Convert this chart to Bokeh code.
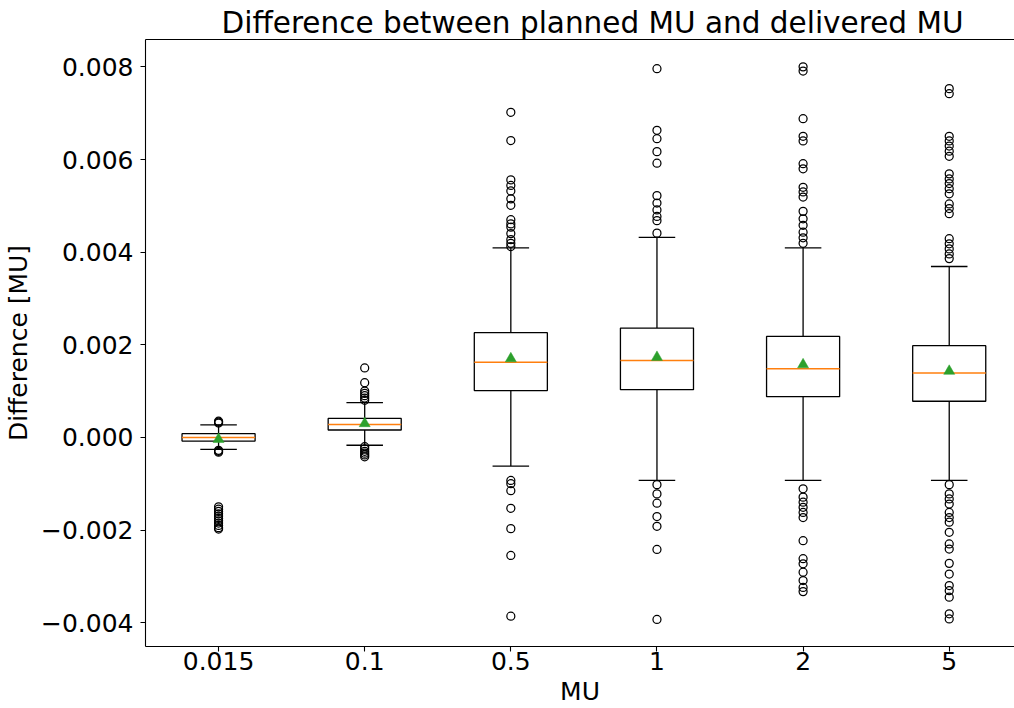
from bokeh.plotting import figure
from bokeh.models import (ColumnDataSource, Range1d, FixedTicker, LinearAxis,
                          CustomJSTickFormatter, Title)
from bokeh.embed import file_html
from bokeh.resources import INLINE

# ---------------- data ----------------
categories = ["0.015", "0.1", "0.5", "1", "2", "5"]
q1 = [-0.00008, 0.00016, 0.00101, 0.00103, 0.00088, 0.00078]
median = [0.00000, 0.00028, 0.00162, 0.00166, 0.00148, 0.00139]
q3 = [0.00008, 0.00041, 0.00226, 0.00236, 0.00218, 0.00198]
whisker_low = [-0.00026, -0.00017, -0.00062, -0.00093, -0.00093, -0.00093]
whisker_high = [0.00027, 0.00075, 0.00409, 0.00432, 0.00409, 0.00369]
mean = [-0.00004, 0.00030, 0.00170, 0.00173, 0.00157, 0.00143]

outliers_0015 = [0.00031, 0.00033, 0.00035, -0.00028, -0.00030, -0.00032,
                 -0.00150, -0.00155, -0.00160, -0.00165, -0.00170, -0.00175,
                 -0.00180, -0.00185, -0.00190, -0.00195, -0.00198]
outliers_01 = [0.00150, 0.00118, 0.00100, 0.00095, 0.00090, 0.00085, 0.00080,
               -0.00020, -0.00025, -0.00030, -0.00034, -0.00038, -0.00042]
outliers_05 = [0.00702, 0.00641, 0.00556, 0.00544, 0.00532, 0.00515, 0.00501,
               0.00470, 0.00461, 0.00454, 0.00440, 0.00427, 0.00419, 0.00412,
               -0.00093, -0.00100, -0.00115, -0.00153, -0.00197, -0.00255, -0.00386]
outliers_1 = [0.00796, 0.00663, 0.00645, 0.00617, 0.00592, 0.00522, 0.00506,
              0.00491, 0.00477, 0.00468, 0.00441,
              -0.00102, -0.00122, -0.00142, -0.00171, -0.00192, -0.00242, -0.00393]
outliers_2 = [0.00800, 0.00791, 0.00688, 0.00650, 0.00640, 0.00591, 0.00580,
              0.00540, 0.00530, 0.00519, 0.00488, 0.00472, 0.00458, 0.00443,
              0.00431, 0.00419,
              -0.00111, -0.00129, -0.00140, -0.00151, -0.00162, -0.00173,
              -0.00223, -0.00262, -0.00273, -0.00291, -0.00309, -0.00324, -0.00333]
outliers_5 = [0.00753, 0.00742, 0.00650, 0.00640, 0.00629, 0.00618, 0.00607,
              0.00569, 0.00558, 0.00548, 0.00537, 0.00526, 0.00504, 0.00494,
              0.00483, 0.00429, 0.00418, 0.00407, 0.00396, 0.00386,
              -0.00102, -0.00122, -0.00133, -0.00144, -0.00162, -0.00173,
              -0.00183, -0.00205, -0.00230, -0.00241, -0.00272, -0.00295,
              -0.00320, -0.00331, -0.00345, -0.00381, -0.00392]
outliers = [outliers_0015, outliers_01, outliers_05, outliers_1, outliers_2, outliers_5]

y_ticks = [-0.004, -0.002, 0.0, 0.002, 0.004, 0.006, 0.008]

title_text = "Difference between planned MU and delivered MU"
x_label = "MU"
y_label = "Difference [MU]"

# ---------------- figure ----------------
FONT = "DejaVu Sans"
W, H = 1014, 708
ML, MR, MT, MB = 144, 0, 39, 62
frame_w = W - ML - MR

pos = [i + 1 for i in range(len(categories))]
x_start = 0.5
x_end = 0.5 + frame_w / 146.3

p = figure(width=W, height=H, output_backend="svg", toolbar_location=None,
           x_range=Range1d(x_start, x_end), y_range=Range1d(-0.004515, 0.008591),
           min_border_left=ML, min_border_right=MR, min_border_top=MT,
           min_border_bottom=MB, background_fill_color="white",
           border_fill_color="white", outline_line_color=None)
p.xgrid.visible = False
p.ygrid.visible = False

half_box = 0.25
half_cap = 0.125
src = ColumnDataSource(dict(
    x=pos,
    left=[x - half_box for x in pos], right=[x + half_box for x in pos],
    cap_l=[x - half_cap for x in pos], cap_r=[x + half_cap for x in pos],
    q1=q1, q3=q3, med=median, lo=whisker_low, hi=whisker_high, mean=mean,
))

LW = 1.3
p.segment(x0="x", y0="q3", x1="x", y1="hi", source=src, line_color="black", line_width=LW)
p.segment(x0="x", y0="q1", x1="x", y1="lo", source=src, line_color="black", line_width=LW)
p.segment(x0="cap_l", y0="hi", x1="cap_r", y1="hi", source=src, line_color="black", line_width=LW)
p.segment(x0="cap_l", y0="lo", x1="cap_r", y1="lo", source=src, line_color="black", line_width=LW)
p.quad(left="left", right="right", bottom="q1", top="q3", source=src,
       fill_color="white", line_color="black", line_width=LW)
p.segment(x0="left", y0="med", x1="right", y1="med", source=src,
          line_color="#ff7f0e", line_width=1.5)

ox, oy = [], []
for x, vals in zip(pos, outliers):
    ox += [x] * len(vals)
    oy += vals
p.scatter(x=ox, y=oy, marker="circle", size=8, fill_color=None,
          line_color="black", line_width=1.25)
p.scatter(x="x", y="mean", source=src, marker="triangle", size=11,
          fill_color="#2ca02c", line_color="#2ca02c", line_width=0.5)

# ---------------- axes ----------------
for ax in (p.xaxis[0], p.yaxis[0]):
    ax.axis_line_color = "black"
    ax.axis_line_width = 1.1
    ax.major_tick_line_color = "black"
    ax.major_tick_line_width = 1.1
    ax.major_tick_out = 5
    ax.major_tick_in = 0
    ax.minor_tick_out = 0
    ax.minor_tick_in = 0
    ax.major_label_text_font = FONT
    ax.major_label_text_font_size = "25px"
    ax.major_label_text_color = "black"
    ax.axis_label_text_font = FONT
    ax.axis_label_text_font_size = "25px"
    ax.axis_label_text_font_style = "normal"
    ax.axis_label_text_color = "black"

p.xaxis[0].ticker = FixedTicker(ticks=pos)
p.xaxis[0].major_label_overrides = {x: c for x, c in zip(pos, categories)}
p.xaxis[0].major_label_standoff = 0
p.xaxis[0].axis_label = x_label
p.xaxis[0].axis_label_standoff = 4

p.yaxis[0].ticker = FixedTicker(ticks=y_ticks)
p.yaxis[0].formatter = CustomJSTickFormatter(
    code='return (tick < -1e-12 ? "\\u2212" : "") + Math.abs(tick).toFixed(3);')
p.yaxis[0].major_label_standoff = 7
p.yaxis[0].axis_label = y_label
p.yaxis[0].axis_label_standoff = 5

top = LinearAxis(ticker=FixedTicker(ticks=[]), axis_line_color="black",
                 axis_line_width=1.1, major_tick_out=0, major_tick_in=0,
                 minor_tick_out=0, minor_tick_in=0, major_label_standoff=0,
                 major_label_text_font_size="0px")
p.add_layout(top, "above")

p.add_layout(Title(text=title_text, text_font=FONT, text_font_size="29.5px",
                   text_font_style="normal", text_color="black", align="left",
                   offset=76, standoff=0), "above")

open("out.html", "w").write(file_html(p, INLINE))
